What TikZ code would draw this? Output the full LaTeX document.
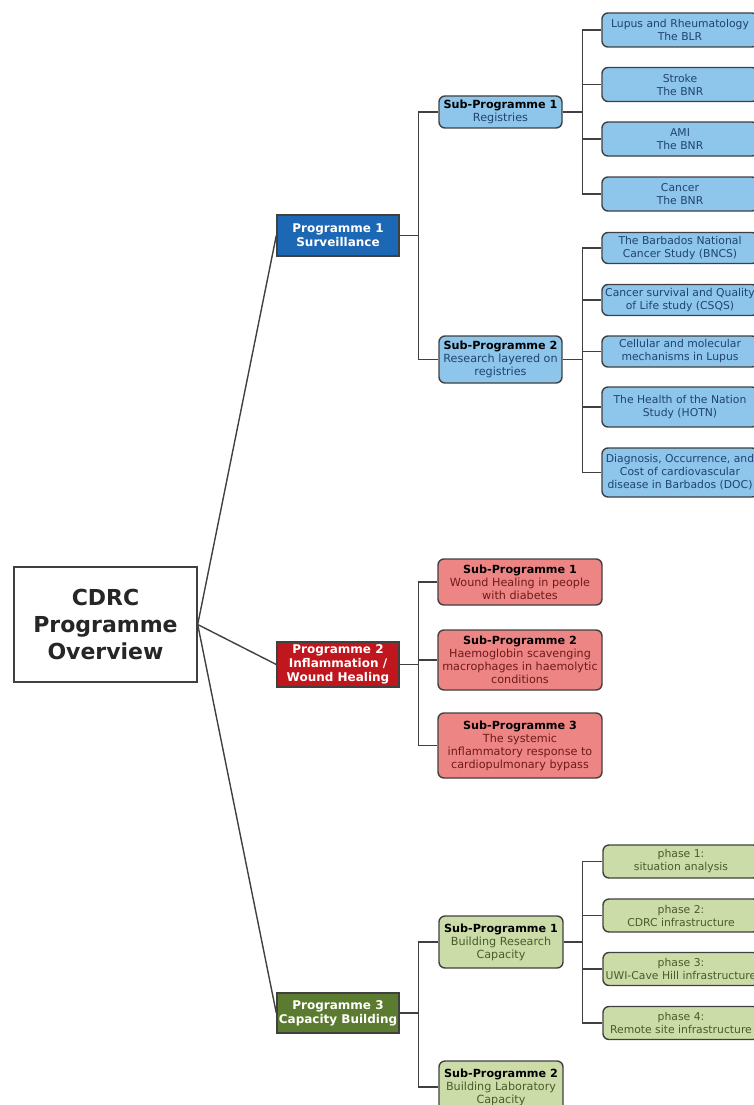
\documentclass[tikz,border=0pt]{standalone}
\usepackage{fontspec}
\setmainfont{DejaVu Sans}
\usepackage{tikz}
\usetikzlibrary{positioning,calc}

\definecolor{blueDark}{HTML}{1C68B4}
\definecolor{blueLight}{HTML}{8EC5EA}
\definecolor{blueText}{HTML}{1F4470}
\definecolor{redDark}{HTML}{C0161E}
\definecolor{redLight}{HTML}{EE8585}
\definecolor{redText}{HTML}{6E1A1A}
\definecolor{greenDark}{HTML}{5B7B30}
\definecolor{greenLight}{HTML}{CCDCA8}
\definecolor{greenText}{HTML}{4A5A2A}
\definecolor{edge}{HTML}{404040}

\tikzset{
  box/.style={draw=edge,line width=1.4,align=center,inner sep=0pt},
  rootbox/.style={box,fill=white,minimum width=183,minimum height=115,
    font=\fontsize{22}{27}\selectfont\bfseries,text=black!85},
  progbox/.style={box,minimum width=122,font=\fontsize{12}{14}\selectfont\bfseries,text=white},
  subbox/.style={box,rounded corners=6,font=\fontsize{11.2}{13}\selectfont},
  leafbox/.style={box,rounded corners=6,minimum width=156,font=\fontsize{10.8}{13}\selectfont},
  link/.style={draw=edge,line width=1.4},
}

\begin{document}
\begin{tikzpicture}[x=1pt,y=-1pt]
\useasboundingbox (0,0) rectangle (754,1105);
\clip (0,0) rectangle (754,1105);

% root and programmes
\node[rootbox] (root) at (105.5,624.5) {CDRC\\Programme\\Overview};
\node[progbox,fill=blueDark,minimum height=41] (p1) at (338,235.5) {Programme 1\\Surveillance};
\node[progbox,fill=redDark,minimum height=45] (p2) at (338,664.5) {Programme 2\\Inflammation /\\Wound Healing};
\node[progbox,fill=greenDark,minimum height=40] (p3) at (338,1013) {Programme 3\\Capacity Building};

\foreach \p in {p1,p2,p3}{ \draw[link] (root.east) -- (\p.west); }

% programme 1
\node[subbox,fill=blueLight,text=blueText,minimum width=123,minimum height=32] (s11) at (500.5,112)
  {\textbf{\color{black}Sub-Programme 1}\\Registries};
\node[subbox,fill=blueLight,text=blueText,minimum width=123,minimum height=47] (s12) at (500.5,359.5)
  {\textbf{\color{black}Sub-Programme 2}\\Research layered on\\registries};
\foreach \s in {s11,s12}{ \draw[link] (p1.east) -- ++(19,0) |- (\s.west); }

\foreach \y/\name/\txt in {30/l1/{Lupus and Rheumatology\\The BLR},84.5/l2/{Stroke\\The BNR},
  139/l3/{AMI\\The BNR},194/l4/{Cancer\\The BNR}}{
  \node[leafbox,fill=blueLight,text=blueText,minimum height=34] (\name) at (680,\y) {\txt};
  \draw[link] (s11.east) -- ++(20,0) |- (\name.west);
}
\foreach \y/\name/\h/\txt in {248/m1/31/{The Barbados National\\Cancer Study (BNCS)},
  300/m2/31/{Cancer survival and Quality\\of Life study (CSQS)},
  351.5/m3/31/{Cellular and molecular\\mechanisms in Lupus},
  407/m4/40/{The Health of the Nation\\Study (HOTN)},
  472.5/m5/49/{Diagnosis, Occurrence, and\\Cost of cardiovascular\\disease in Barbados (DOC)}}{
  \node[leafbox,fill=blueLight,text=blueText,minimum height=\h] (\name) at (680,\y) {\txt};
  \draw[link] (s12.east) -- ++(20,0) |- (\name.west);
}

% programme 2
\foreach \y/\name/\h/\txt in {582/r1/46/{\textbf{\color{black}Sub-Programme 1}\\Wound Healing in people\\with diabetes},
  660/r2/60/{\textbf{\color{black}Sub-Programme 2}\\Haemoglobin scavenging\\macrophages in haemolytic\\conditions},
  745.5/r3/65/{\textbf{\color{black}Sub-Programme 3}\\The systemic\\inflammatory response to\\cardiopulmonary bypass}}{
  \node[subbox,fill=redLight,text=redText,minimum width=164,minimum height=\h] (\name) at (520,\y) {\txt};
  \draw[link] (p2.east) -- ++(19,0) |- (\name.west);
}

% programme 3
\node[subbox,fill=greenLight,text=greenText,minimum width=124,minimum height=52] (s31) at (501,942)
  {\textbf{\color{black}Sub-Programme 1}\\Building Research\\Capacity};
\node[subbox,fill=greenLight,text=greenText,minimum width=124,minimum height=52] (s32) at (501,1087)
  {\textbf{\color{black}Sub-Programme 2}\\Building Laboratory\\Capacity};
\foreach \s in {s31,s32}{ \draw[link] (p3.east) -- ++(19,0) |- (\s.west); }

\foreach \y/\name/\txt in {861.5/g1/{phase 1:\\situation analysis},915.5/g2/{phase 2:\\CDRC infrastructure},
  969/g3/{phase 3:\\UWI-Cave Hill infrastructure},1023/g4/{phase 4:\\Remote site infrastructure}}{
  \node[leafbox,fill=greenLight,text=greenText,minimum height=33] (\name) at (681,\y) {\txt};
  \draw[link] (s31.east) -- ++(19,0) |- (\name.west);
}
\end{tikzpicture}
\end{document}
